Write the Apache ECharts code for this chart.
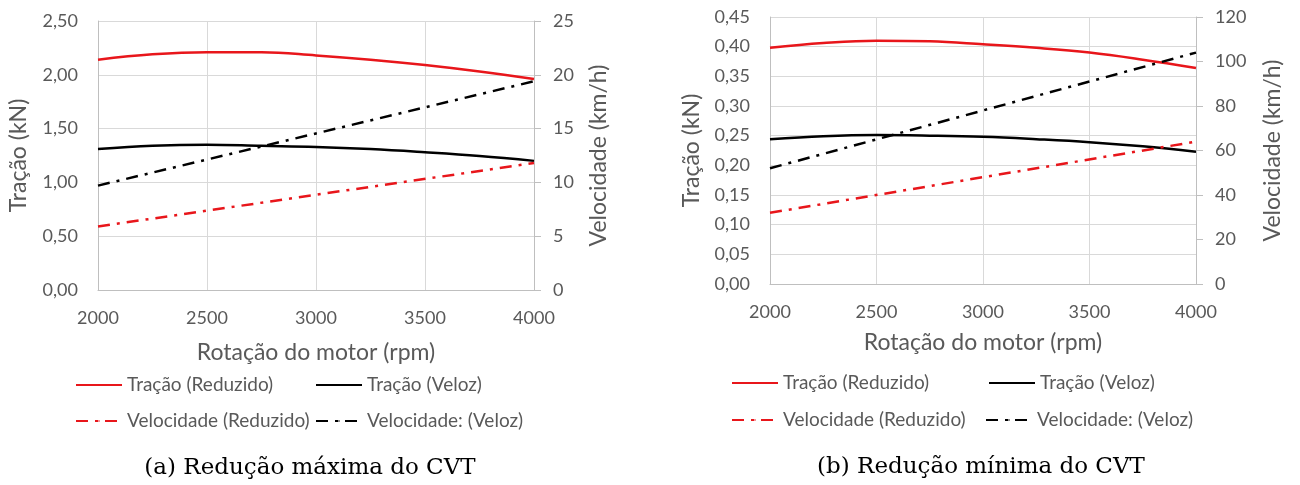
<!DOCTYPE html>
<html>
<head>
<meta charset="utf-8">
<script src="https://cdn.jsdelivr.net/npm/echarts@6/dist/echarts.min.js"></script>
<style>
  html, body { margin: 0; padding: 0; background: #fff; }
  #main { width: 1300px; height: 485px; }
</style>
</head>
<body>
<div id="main"></div>
<script>
// rotação do motor (rpm)
var rpm = [2000, 2250, 2500, 2750, 3000, 3250, 3500, 3750, 4000];
var rpmEnds = [2000, 4000];

// (a) redução máxima do CVT
var tracRedA = [2.14, 2.19, 2.21, 2.21, 2.18, 2.14, 2.09, 2.03, 1.96];
var tracVelA = [1.31, 1.34, 1.35, 1.34, 1.33, 1.31, 1.28, 1.245, 1.20];
var velRedA = [5.9, 11.8];
var velVelA = [9.7, 19.4];

// (b) redução mínima do CVT
var tracRedB = [0.398, 0.406, 0.410, 0.409, 0.404, 0.398, 0.390, 0.378, 0.364];
var tracVelB = [0.244, 0.249, 0.251, 0.250, 0.248, 0.244, 0.239, 0.232, 0.223];
var velRedB = [32, 64];
var velVelB = [52, 104];

var names = ['Tração (Reduzido)', 'Tração (Veloz)', 'Velocidade (Reduzido)', 'Velocidade: (Veloz)'];
var captions = ['(a) Redução máxima do CVT', '(b) Redução mínima do CVT'];

var RED = '#e8161b', BLACK = '#000000';
var TXT = '#595959', GRID = '#d9d9d9', AXIS = '#bfbfbf';
var FONT = 'Lato';
var DASHDOT = [12, 7, 3, 7];

function pairs(xs, ys) {
  return xs.map(function (x, i) { return [x, ys[i]]; });
}
function comma(d) {
  return function (v) { return v.toFixed(d).replace('.', ','); };
}

var chart = echarts.init(document.getElementById('main'));

function xAxis(gi, gap) {
  return {
    type: 'value', gridIndex: gi, min: 2000, max: 4000, interval: 500,
    name: 'Rotação do motor (rpm)', nameLocation: 'middle', nameGap: gap,
    nameTextStyle: { color: TXT, fontFamily: FONT, fontSize: 23 },
    axisLine: { lineStyle: { color: AXIS, width: 1 } },
    axisTick: { show: false },
    axisLabel: { color: TXT, fontFamily: FONT, fontSize: 18, margin: 19,
                 formatter: function (v) { return String(v); } },
    splitLine: { show: true, lineStyle: { color: GRID, width: 1 } }
  };
}
function yLeft(gi, max, step, gap) {
  return {
    type: 'value', gridIndex: gi, position: 'left', min: 0, max: max, interval: step,
    name: 'Tração (kN)', nameLocation: 'middle', nameGap: gap,
    nameTextStyle: { color: TXT, fontFamily: FONT, fontSize: 23 },
    axisLine: { show: true, lineStyle: { color: AXIS, width: 1 } },
    axisTick: { show: false },
    axisLabel: { color: TXT, fontFamily: FONT, fontSize: 18, margin: 20, formatter: comma(2) },
    splitLine: { show: true, lineStyle: { color: GRID, width: 1 } }
  };
}
function yRight(gi, max, step, gap) {
  return {
    type: 'value', gridIndex: gi, position: 'right', min: 0, max: max, interval: step,
    name: 'Velocidade (km/h)', nameLocation: 'middle', nameGap: gap,
    nameTextStyle: { color: TXT, fontFamily: FONT, fontSize: 23 },
    axisLine: { show: true, lineStyle: { color: AXIS, width: 1 } },
    axisTick: { show: true, length: 7, lineStyle: { color: AXIS } },
    axisLabel: { color: TXT, fontFamily: FONT, fontSize: 18, margin: 19 },
    splitLine: { show: false }
  };
}
function series(gi, trR, trV, vR, vV) {
  var base = { type: 'line', xAxisIndex: gi, symbol: 'none', silent: true };
  return [
    Object.assign({}, base, { name: names[0], yAxisIndex: gi * 2, smooth: 0.4,
      data: pairs(rpm, trR), lineStyle: { color: RED, width: 2.5 }, itemStyle: { color: RED } }),
    Object.assign({}, base, { name: names[1], yAxisIndex: gi * 2, smooth: 0.4,
      data: pairs(rpm, trV), lineStyle: { color: BLACK, width: 2.5 }, itemStyle: { color: BLACK } }),
    Object.assign({}, base, { name: names[2], yAxisIndex: gi * 2 + 1,
      data: pairs(rpmEnds, vR), lineStyle: { color: RED, width: 2.5, type: DASHDOT }, itemStyle: { color: RED } }),
    Object.assign({}, base, { name: names[3], yAxisIndex: gi * 2 + 1,
      data: pairs(rpmEnds, vV), lineStyle: { color: BLACK, width: 2.5, type: DASHDOT }, itemStyle: { color: BLACK } })
  ];
}
// um componente de legenda por item, para posicionar em 2x2
function legendAt(name, left, top) {
  return {
    data: [name], left: left, top: top, padding: 0,
    itemWidth: 46, itemHeight: 2, selectedMode: false,
    textStyle: { color: TXT, fontFamily: FONT, fontSize: 19, lineHeight: 22 }
  };
}

chart.setOption({
  animation: false,
  grid: [
    { left: 98, top: 21, width: 436, height: 269 },
    { left: 770, top: 17, width: 426, height: 267 }
  ],
  xAxis: [xAxis(0, 51), xAxis(1, 47)],
  yAxis: [yLeft(0, 2.5, 0.5, 68), yRight(0, 25, 5, 53),
          yLeft(1, 0.45, 0.05, 67), yRight(1, 120, 20, 65)],
  legend: [
    legendAt(names[0], 75, 374), legendAt(names[1], 315, 374),
    legendAt(names[2], 75, 410), legendAt(names[3], 315, 410),
    legendAt(names[0], 731, 372), legendAt(names[1], 988, 372),
    legendAt(names[2], 731, 409), legendAt(names[3], 985, 409)
  ],
  graphic: [
    { type: 'text', x: 310, y: 468, silent: true,
      style: { text: captions[0], textAlign: 'center', textVerticalAlign: 'middle',
               font: '23px "DejaVu Serif"', fill: '#000' } },
    { type: 'text', x: 981, y: 467, silent: true,
      style: { text: captions[1], textAlign: 'center', textVerticalAlign: 'middle',
               font: '23px "DejaVu Serif"', fill: '#000' } }
  ],
  series: series(0, tracRedA, tracVelA, velRedA, velVelA)
    .concat(series(1, tracRedB, tracVelB, velRedB, velVelB))
});
</script>
</body>
</html>
